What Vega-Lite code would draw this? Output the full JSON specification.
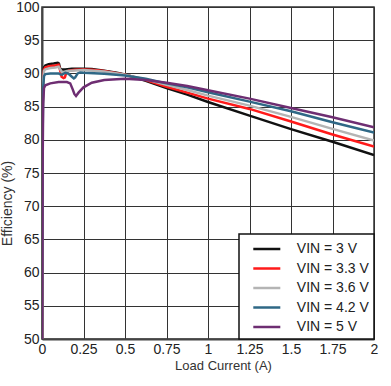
{
  "$schema": "https://vega.github.io/schema/vega-lite/v6.json",
  "width": 332,
  "height": 332,
  "autosize": {"type": "none"},
  "padding": {"left": 42, "top": 7, "right": 17, "bottom": 47},
  "background": "white",
  "config": {
    "font": "Liberation Sans",
    "view": {"stroke": "#333", "strokeWidth": 1.5},
    "axis": {
      "labelFont": "Liberation Sans", "labelFontSize": 14, "labelColor": "#222",
      "titleFont": "Liberation Sans", "titleFontSize": 14, "titleFontWeight": "normal", "titleColor": "#333",
      "ticks": false, "gridColor": "#333", "gridWidth": 1, "gridOpacity": 1,
      "domainColor": "#444", "domainWidth": 2, "labelFlush": false
    },
    "legend": {
      "labelFont": "Liberation Sans", "labelFontSize": 14, "labelColor": "#222"
    }
  },
  "data": {"values": [
    {"I":0,"E":50,"s":"VIN = 3 V"},{"I":0.002,"E":72,"s":"VIN = 3 V"},{"I":0.004,"E":85,"s":"VIN = 3 V"},{"I":0.007,"E":89.8,"s":"VIN = 3 V"},{"I":0.012,"E":90.9,"s":"VIN = 3 V"},{"I":0.02,"E":91.2,"s":"VIN = 3 V"},{"I":0.04,"E":91.4,"s":"VIN = 3 V"},{"I":0.07,"E":91.5,"s":"VIN = 3 V"},{"I":0.095,"E":91.6,"s":"VIN = 3 V"},{"I":0.102,"E":91.5,"s":"VIN = 3 V"},{"I":0.108,"E":90.8,"s":"VIN = 3 V"},{"I":0.115,"E":90.6,"s":"VIN = 3 V"},{"I":0.14,"E":90.6,"s":"VIN = 3 V"},{"I":0.18,"E":90.7,"s":"VIN = 3 V"},{"I":0.25,"E":90.7,"s":"VIN = 3 V"},{"I":0.3,"E":90.65,"s":"VIN = 3 V"},{"I":0.375,"E":90.4,"s":"VIN = 3 V"},{"I":0.45,"E":90.1,"s":"VIN = 3 V"},{"I":0.5,"E":89.85,"s":"VIN = 3 V"},{"I":0.625,"E":88.9,"s":"VIN = 3 V"},{"I":0.75,"E":87.8,"s":"VIN = 3 V"},{"I":0.875,"E":86.8,"s":"VIN = 3 V"},{"I":1.0,"E":85.7,"s":"VIN = 3 V"},{"I":1.25,"E":83.65,"s":"VIN = 3 V"},{"I":1.5,"E":81.6,"s":"VIN = 3 V"},{"I":1.75,"E":79.7,"s":"VIN = 3 V"},{"I":2.0,"E":77.7,"s":"VIN = 3 V"},

    {"I":0,"E":50,"s":"VIN = 3.3 V"},{"I":0.002,"E":70,"s":"VIN = 3.3 V"},{"I":0.004,"E":84,"s":"VIN = 3.3 V"},{"I":0.007,"E":89.3,"s":"VIN = 3.3 V"},{"I":0.012,"E":90.6,"s":"VIN = 3.3 V"},{"I":0.02,"E":90.9,"s":"VIN = 3.3 V"},{"I":0.05,"E":91.1,"s":"VIN = 3.3 V"},{"I":0.08,"E":91.2,"s":"VIN = 3.3 V"},{"I":0.1,"E":91.3,"s":"VIN = 3.3 V"},{"I":0.108,"E":90.6,"s":"VIN = 3.3 V"},{"I":0.118,"E":89.5,"s":"VIN = 3.3 V"},{"I":0.13,"E":89.3,"s":"VIN = 3.3 V"},{"I":0.138,"E":89.4,"s":"VIN = 3.3 V"},{"I":0.145,"E":90.0,"s":"VIN = 3.3 V"},{"I":0.16,"E":90.4,"s":"VIN = 3.3 V"},{"I":0.2,"E":90.55,"s":"VIN = 3.3 V"},{"I":0.25,"E":90.6,"s":"VIN = 3.3 V"},{"I":0.3,"E":90.55,"s":"VIN = 3.3 V"},{"I":0.375,"E":90.35,"s":"VIN = 3.3 V"},{"I":0.5,"E":89.8,"s":"VIN = 3.3 V"},{"I":0.625,"E":89.0,"s":"VIN = 3.3 V"},{"I":0.75,"E":88.0,"s":"VIN = 3.3 V"},{"I":0.875,"E":87.1,"s":"VIN = 3.3 V"},{"I":1.0,"E":86.2,"s":"VIN = 3.3 V"},{"I":1.25,"E":84.65,"s":"VIN = 3.3 V"},{"I":1.5,"E":82.75,"s":"VIN = 3.3 V"},{"I":1.75,"E":80.8,"s":"VIN = 3.3 V"},{"I":2.0,"E":79.0,"s":"VIN = 3.3 V"},

    {"I":0,"E":50,"s":"VIN = 3.6 V"},{"I":0.002,"E":69,"s":"VIN = 3.6 V"},{"I":0.004,"E":83,"s":"VIN = 3.6 V"},{"I":0.007,"E":89.0,"s":"VIN = 3.6 V"},{"I":0.012,"E":90.4,"s":"VIN = 3.6 V"},{"I":0.02,"E":90.6,"s":"VIN = 3.6 V"},{"I":0.05,"E":90.8,"s":"VIN = 3.6 V"},{"I":0.08,"E":90.9,"s":"VIN = 3.6 V"},{"I":0.1,"E":91.0,"s":"VIN = 3.6 V"},{"I":0.11,"E":90.6,"s":"VIN = 3.6 V"},{"I":0.12,"E":90.2,"s":"VIN = 3.6 V"},{"I":0.13,"E":90.15,"s":"VIN = 3.6 V"},{"I":0.15,"E":90.35,"s":"VIN = 3.6 V"},{"I":0.2,"E":90.45,"s":"VIN = 3.6 V"},{"I":0.25,"E":90.5,"s":"VIN = 3.6 V"},{"I":0.375,"E":90.3,"s":"VIN = 3.6 V"},{"I":0.5,"E":89.8,"s":"VIN = 3.6 V"},{"I":0.625,"E":89.1,"s":"VIN = 3.6 V"},{"I":0.75,"E":88.3,"s":"VIN = 3.6 V"},{"I":0.875,"E":87.5,"s":"VIN = 3.6 V"},{"I":1.0,"E":86.65,"s":"VIN = 3.6 V"},{"I":1.25,"E":85.15,"s":"VIN = 3.6 V"},{"I":1.5,"E":83.45,"s":"VIN = 3.6 V"},{"I":1.75,"E":81.65,"s":"VIN = 3.6 V"},{"I":2.0,"E":79.9,"s":"VIN = 3.6 V"},

    {"I":0,"E":50,"s":"VIN = 4.2 V"},{"I":0.002,"E":67,"s":"VIN = 4.2 V"},{"I":0.004,"E":81,"s":"VIN = 4.2 V"},{"I":0.007,"E":87.8,"s":"VIN = 4.2 V"},{"I":0.012,"E":89.6,"s":"VIN = 4.2 V"},{"I":0.02,"E":89.9,"s":"VIN = 4.2 V"},{"I":0.05,"E":90.0,"s":"VIN = 4.2 V"},{"I":0.1,"E":90.0,"s":"VIN = 4.2 V"},{"I":0.11,"E":89.85,"s":"VIN = 4.2 V"},{"I":0.12,"E":89.8,"s":"VIN = 4.2 V"},{"I":0.14,"E":90.1,"s":"VIN = 4.2 V"},{"I":0.16,"E":89.95,"s":"VIN = 4.2 V"},{"I":0.18,"E":89.5,"s":"VIN = 4.2 V"},{"I":0.192,"E":89.25,"s":"VIN = 4.2 V"},{"I":0.2,"E":89.4,"s":"VIN = 4.2 V"},{"I":0.215,"E":90.0,"s":"VIN = 4.2 V"},{"I":0.23,"E":90.15,"s":"VIN = 4.2 V"},{"I":0.25,"E":90.1,"s":"VIN = 4.2 V"},{"I":0.375,"E":89.95,"s":"VIN = 4.2 V"},{"I":0.5,"E":89.7,"s":"VIN = 4.2 V"},{"I":0.625,"E":89.2,"s":"VIN = 4.2 V"},{"I":0.75,"E":88.5,"s":"VIN = 4.2 V"},{"I":0.875,"E":87.9,"s":"VIN = 4.2 V"},{"I":1.0,"E":87.15,"s":"VIN = 4.2 V"},{"I":1.25,"E":85.75,"s":"VIN = 4.2 V"},{"I":1.5,"E":84.3,"s":"VIN = 4.2 V"},{"I":1.75,"E":82.65,"s":"VIN = 4.2 V"},{"I":2.0,"E":81.1,"s":"VIN = 4.2 V"},

    {"I":0,"E":50,"s":"VIN = 5 V"},{"I":0.002,"E":64,"s":"VIN = 5 V"},{"I":0.004,"E":77,"s":"VIN = 5 V"},{"I":0.007,"E":85.5,"s":"VIN = 5 V"},{"I":0.012,"E":87.8,"s":"VIN = 5 V"},{"I":0.02,"E":88.2,"s":"VIN = 5 V"},{"I":0.05,"E":88.5,"s":"VIN = 5 V"},{"I":0.1,"E":88.7,"s":"VIN = 5 V"},{"I":0.15,"E":88.7,"s":"VIN = 5 V"},{"I":0.17,"E":88.5,"s":"VIN = 5 V"},{"I":0.185,"E":87.6,"s":"VIN = 5 V"},{"I":0.195,"E":86.9,"s":"VIN = 5 V"},{"I":0.205,"E":86.6,"s":"VIN = 5 V"},{"I":0.22,"E":87.1,"s":"VIN = 5 V"},{"I":0.25,"E":87.9,"s":"VIN = 5 V"},{"I":0.3,"E":88.6,"s":"VIN = 5 V"},{"I":0.375,"E":89.0,"s":"VIN = 5 V"},{"I":0.5,"E":89.2,"s":"VIN = 5 V"},{"I":0.625,"E":89.0,"s":"VIN = 5 V"},{"I":0.75,"E":88.6,"s":"VIN = 5 V"},{"I":0.875,"E":88.1,"s":"VIN = 5 V"},{"I":1.0,"E":87.45,"s":"VIN = 5 V"},{"I":1.25,"E":86.2,"s":"VIN = 5 V"},{"I":1.5,"E":84.8,"s":"VIN = 5 V"},{"I":1.75,"E":83.4,"s":"VIN = 5 V"},{"I":2.0,"E":81.9,"s":"VIN = 5 V"}
  ]},
  "mark": {"type": "line", "strokeWidth": 2.5, "clip": true, "interpolate": "linear"},
  "encoding": {
    "x": {
      "field": "I", "type": "quantitative",
      "scale": {"domain": [0, 2], "nice": false, "zero": false},
      "axis": {"title": "Load Current (A)", "values": [0,0.25,0.5,0.75,1,1.25,1.5,1.75,2], "labelExpr": "'' + datum.value", "labelPadding": 3, "titlePadding": 3, "titleX": 181, "titleFontSize": 13}
    },
    "y": {
      "field": "E", "type": "quantitative",
      "scale": {"domain": [50, 100], "nice": false, "zero": false},
      "axis": {"title": "Efficiency (%)", "values": [50,55,60,65,70,75,80,85,90,95,100], "labelPadding": 3, "titlePadding": 1, "titleY": 196, "titleFontSize": 14}
    },
    "color": {
      "field": "s", "type": "nominal",
      "scale": {
        "domain": ["VIN = 3 V", "VIN = 3.3 V", "VIN = 3.6 V", "VIN = 4.2 V", "VIN = 5 V"],
        "range": ["#111111", "#ff1a1a", "#b4b4b4", "#2f6886", "#6e2e72"]
      },
      "legend": {
        "title": null, "orient": "bottom-right", "offset": 0,
        "strokeColor": "#111", "fillColor": "white",
        "padding": 5, "symbolOffset": 12.8, "symbolType": "M-1.56,0H1.56", "symbolSize": 300,
        "symbolStrokeWidth": 2.5, "labelOffset": 20, "rowPadding": 2.5,
        "labelExpr": "datum.label + '\u2002'",
        "encode": {"legend": {"update": {"strokeWidth": {"value": 1.5}}}}
      }
    },
    "order": {"field": "I", "type": "quantitative"}
  }
}
